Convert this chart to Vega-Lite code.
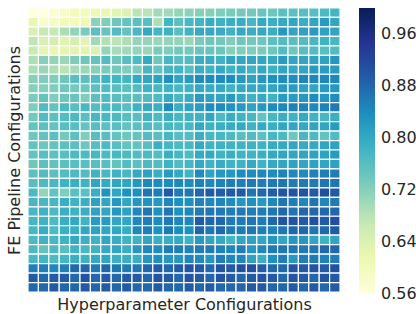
{
"$schema":"https://vega.github.io/schema/vega-lite/v6.json",
"width":312,"height":284,
"autosize":{"type":"none"},
"padding":{"left":28,"top":8,"right":76,"bottom":22},
"background":"white",
"config":{"font":"DejaVu Sans","view":{"stroke":null}},
"data":{"values":[
{"h":0,"p":0,"v":0.56},{"h":1,"p":0,"v":0.56},{"h":2,"p":0,"v":0.57},{"h":3,"p":0,"v":0.58},{"h":4,"p":0,"v":0.60},{"h":5,"p":0,"v":0.60},{"h":6,"p":0,"v":0.61},{"h":7,"p":0,"v":0.62},{"h":8,"p":0,"v":0.63},{"h":9,"p":0,"v":0.64},{"h":10,"p":0,"v":0.68},{"h":11,"p":0,"v":0.68},{"h":12,"p":0,"v":0.70},{"h":13,"p":0,"v":0.70},{"h":14,"p":0,"v":0.71},{"h":15,"p":0,"v":0.715},{"h":16,"p":0,"v":0.72},{"h":17,"p":0,"v":0.72},{"h":18,"p":0,"v":0.725},{"h":19,"p":0,"v":0.73},{"h":20,"p":0,"v":0.735},{"h":21,"p":0,"v":0.735},{"h":22,"p":0,"v":0.745},{"h":23,"p":0,"v":0.74},{"h":24,"p":0,"v":0.755},{"h":25,"p":0,"v":0.755},{"h":26,"p":0,"v":0.76},{"h":27,"p":0,"v":0.76},{"h":28,"p":0,"v":0.77},{"h":29,"p":0,"v":0.78},
{"h":0,"p":1,"v":0.62},{"h":1,"p":1,"v":0.58},{"h":2,"p":1,"v":0.59},{"h":3,"p":1,"v":0.60},{"h":4,"p":1,"v":0.60},{"h":5,"p":1,"v":0.61},{"h":6,"p":1,"v":0.715},{"h":7,"p":1,"v":0.725},{"h":8,"p":1,"v":0.74},{"h":9,"p":1,"v":0.75},{"h":10,"p":1,"v":0.755},{"h":11,"p":1,"v":0.76},{"h":12,"p":1,"v":0.69},{"h":13,"p":1,"v":0.78},{"h":14,"p":1,"v":0.755},{"h":15,"p":1,"v":0.775},{"h":16,"p":1,"v":0.78},{"h":17,"p":1,"v":0.795},{"h":18,"p":1,"v":0.785},{"h":19,"p":1,"v":0.79},{"h":20,"p":1,"v":0.795},{"h":21,"p":1,"v":0.775},{"h":22,"p":1,"v":0.80},{"h":23,"p":1,"v":0.79},{"h":24,"p":1,"v":0.80},{"h":25,"p":1,"v":0.805},{"h":26,"p":1,"v":0.79},{"h":27,"p":1,"v":0.805},{"h":28,"p":1,"v":0.82},{"h":29,"p":1,"v":0.805},
{"h":0,"p":2,"v":0.645},{"h":1,"p":2,"v":0.665},{"h":2,"p":2,"v":0.67},{"h":3,"p":2,"v":0.69},{"h":4,"p":2,"v":0.71},{"h":5,"p":2,"v":0.73},{"h":6,"p":2,"v":0.755},{"h":7,"p":2,"v":0.745},{"h":8,"p":2,"v":0.765},{"h":9,"p":2,"v":0.75},{"h":10,"p":2,"v":0.775},{"h":11,"p":2,"v":0.80},{"h":12,"p":2,"v":0.78},{"h":13,"p":2,"v":0.785},{"h":14,"p":2,"v":0.76},{"h":15,"p":2,"v":0.785},{"h":16,"p":2,"v":0.80},{"h":17,"p":2,"v":0.80},{"h":18,"p":2,"v":0.795},{"h":19,"p":2,"v":0.785},{"h":20,"p":2,"v":0.80},{"h":21,"p":2,"v":0.79},{"h":22,"p":2,"v":0.80},{"h":23,"p":2,"v":0.79},{"h":24,"p":2,"v":0.825},{"h":25,"p":2,"v":0.805},{"h":26,"p":2,"v":0.81},{"h":27,"p":2,"v":0.82},{"h":28,"p":2,"v":0.81},{"h":29,"p":2,"v":0.805},
{"h":0,"p":3,"v":0.675},{"h":1,"p":3,"v":0.645},{"h":2,"p":3,"v":0.65},{"h":3,"p":3,"v":0.635},{"h":4,"p":3,"v":0.65},{"h":5,"p":3,"v":0.63},{"h":6,"p":3,"v":0.70},{"h":7,"p":3,"v":0.685},{"h":8,"p":3,"v":0.68},{"h":9,"p":3,"v":0.69},{"h":10,"p":3,"v":0.71},{"h":11,"p":3,"v":0.71},{"h":12,"p":3,"v":0.705},{"h":13,"p":3,"v":0.71},{"h":14,"p":3,"v":0.71},{"h":15,"p":3,"v":0.705},{"h":16,"p":3,"v":0.73},{"h":17,"p":3,"v":0.74},{"h":18,"p":3,"v":0.735},{"h":19,"p":3,"v":0.725},{"h":20,"p":3,"v":0.74},{"h":21,"p":3,"v":0.735},{"h":22,"p":3,"v":0.74},{"h":23,"p":3,"v":0.755},{"h":24,"p":3,"v":0.765},{"h":25,"p":3,"v":0.76},{"h":26,"p":3,"v":0.765},{"h":27,"p":3,"v":0.775},{"h":28,"p":3,"v":0.785},{"h":29,"p":3,"v":0.775},
{"h":0,"p":4,"v":0.665},{"h":1,"p":4,"v":0.625},{"h":2,"p":4,"v":0.62},{"h":3,"p":4,"v":0.625},{"h":4,"p":4,"v":0.63},{"h":5,"p":4,"v":0.63},{"h":6,"p":4,"v":0.64},{"h":7,"p":4,"v":0.71},{"h":8,"p":4,"v":0.695},{"h":9,"p":4,"v":0.70},{"h":10,"p":4,"v":0.71},{"h":11,"p":4,"v":0.705},{"h":12,"p":4,"v":0.73},{"h":13,"p":4,"v":0.725},{"h":14,"p":4,"v":0.735},{"h":15,"p":4,"v":0.735},{"h":16,"p":4,"v":0.745},{"h":17,"p":4,"v":0.745},{"h":18,"p":4,"v":0.74},{"h":19,"p":4,"v":0.72},{"h":20,"p":4,"v":0.725},{"h":21,"p":4,"v":0.725},{"h":22,"p":4,"v":0.73},{"h":23,"p":4,"v":0.74},{"h":24,"p":4,"v":0.765},{"h":25,"p":4,"v":0.74},{"h":26,"p":4,"v":0.76},{"h":27,"p":4,"v":0.765},{"h":28,"p":4,"v":0.76},{"h":29,"p":4,"v":0.765},
{"h":0,"p":5,"v":0.69},{"h":1,"p":5,"v":0.72},{"h":2,"p":5,"v":0.71},{"h":3,"p":5,"v":0.705},{"h":4,"p":5,"v":0.725},{"h":5,"p":5,"v":0.74},{"h":6,"p":5,"v":0.75},{"h":7,"p":5,"v":0.765},{"h":8,"p":5,"v":0.74},{"h":9,"p":5,"v":0.76},{"h":10,"p":5,"v":0.77},{"h":11,"p":5,"v":0.80},{"h":12,"p":5,"v":0.74},{"h":13,"p":5,"v":0.775},{"h":14,"p":5,"v":0.76},{"h":15,"p":5,"v":0.765},{"h":16,"p":5,"v":0.79},{"h":17,"p":5,"v":0.795},{"h":18,"p":5,"v":0.785},{"h":19,"p":5,"v":0.805},{"h":20,"p":5,"v":0.805},{"h":21,"p":5,"v":0.805},{"h":22,"p":5,"v":0.805},{"h":23,"p":5,"v":0.80},{"h":24,"p":5,"v":0.82},{"h":25,"p":5,"v":0.805},{"h":26,"p":5,"v":0.805},{"h":27,"p":5,"v":0.81},{"h":28,"p":5,"v":0.81},{"h":29,"p":5,"v":0.825},
{"h":0,"p":6,"v":0.69},{"h":1,"p":6,"v":0.705},{"h":2,"p":6,"v":0.69},{"h":3,"p":6,"v":0.68},{"h":4,"p":6,"v":0.695},{"h":5,"p":6,"v":0.705},{"h":6,"p":6,"v":0.72},{"h":7,"p":6,"v":0.73},{"h":8,"p":6,"v":0.735},{"h":9,"p":6,"v":0.725},{"h":10,"p":6,"v":0.73},{"h":11,"p":6,"v":0.775},{"h":12,"p":6,"v":0.75},{"h":13,"p":6,"v":0.775},{"h":14,"p":6,"v":0.78},{"h":15,"p":6,"v":0.76},{"h":16,"p":6,"v":0.79},{"h":17,"p":6,"v":0.785},{"h":18,"p":6,"v":0.80},{"h":19,"p":6,"v":0.785},{"h":20,"p":6,"v":0.80},{"h":21,"p":6,"v":0.785},{"h":22,"p":6,"v":0.80},{"h":23,"p":6,"v":0.785},{"h":24,"p":6,"v":0.805},{"h":25,"p":6,"v":0.80},{"h":26,"p":6,"v":0.805},{"h":27,"p":6,"v":0.82},{"h":28,"p":6,"v":0.82},{"h":29,"p":6,"v":0.82},
{"h":0,"p":7,"v":0.72},{"h":1,"p":7,"v":0.725},{"h":2,"p":7,"v":0.725},{"h":3,"p":7,"v":0.74},{"h":4,"p":7,"v":0.76},{"h":5,"p":7,"v":0.755},{"h":6,"p":7,"v":0.765},{"h":7,"p":7,"v":0.785},{"h":8,"p":7,"v":0.78},{"h":9,"p":7,"v":0.78},{"h":10,"p":7,"v":0.80},{"h":11,"p":7,"v":0.805},{"h":12,"p":7,"v":0.81},{"h":13,"p":7,"v":0.835},{"h":14,"p":7,"v":0.805},{"h":15,"p":7,"v":0.82},{"h":16,"p":7,"v":0.84},{"h":17,"p":7,"v":0.84},{"h":18,"p":7,"v":0.84},{"h":19,"p":7,"v":0.84},{"h":20,"p":7,"v":0.825},{"h":21,"p":7,"v":0.81},{"h":22,"p":7,"v":0.825},{"h":23,"p":7,"v":0.835},{"h":24,"p":7,"v":0.84},{"h":25,"p":7,"v":0.84},{"h":26,"p":7,"v":0.845},{"h":27,"p":7,"v":0.845},{"h":28,"p":7,"v":0.845},{"h":29,"p":7,"v":0.845},
{"h":0,"p":8,"v":0.72},{"h":1,"p":8,"v":0.72},{"h":2,"p":8,"v":0.725},{"h":3,"p":8,"v":0.74},{"h":4,"p":8,"v":0.735},{"h":5,"p":8,"v":0.74},{"h":6,"p":8,"v":0.755},{"h":7,"p":8,"v":0.765},{"h":8,"p":8,"v":0.76},{"h":9,"p":8,"v":0.755},{"h":10,"p":8,"v":0.765},{"h":11,"p":8,"v":0.785},{"h":12,"p":8,"v":0.775},{"h":13,"p":8,"v":0.785},{"h":14,"p":8,"v":0.775},{"h":15,"p":8,"v":0.785},{"h":16,"p":8,"v":0.80},{"h":17,"p":8,"v":0.795},{"h":18,"p":8,"v":0.80},{"h":19,"p":8,"v":0.785},{"h":20,"p":8,"v":0.80},{"h":21,"p":8,"v":0.80},{"h":22,"p":8,"v":0.805},{"h":23,"p":8,"v":0.805},{"h":24,"p":8,"v":0.82},{"h":25,"p":8,"v":0.82},{"h":26,"p":8,"v":0.81},{"h":27,"p":8,"v":0.805},{"h":28,"p":8,"v":0.82},{"h":29,"p":8,"v":0.825},
{"h":0,"p":9,"v":0.73},{"h":1,"p":9,"v":0.75},{"h":2,"p":9,"v":0.725},{"h":3,"p":9,"v":0.74},{"h":4,"p":9,"v":0.745},{"h":5,"p":9,"v":0.725},{"h":6,"p":9,"v":0.755},{"h":7,"p":9,"v":0.765},{"h":8,"p":9,"v":0.76},{"h":9,"p":9,"v":0.755},{"h":10,"p":9,"v":0.76},{"h":11,"p":9,"v":0.765},{"h":12,"p":9,"v":0.77},{"h":13,"p":9,"v":0.795},{"h":14,"p":9,"v":0.775},{"h":15,"p":9,"v":0.795},{"h":16,"p":9,"v":0.82},{"h":17,"p":9,"v":0.81},{"h":18,"p":9,"v":0.805},{"h":19,"p":9,"v":0.82},{"h":20,"p":9,"v":0.80},{"h":21,"p":9,"v":0.785},{"h":22,"p":9,"v":0.80},{"h":23,"p":9,"v":0.785},{"h":24,"p":9,"v":0.82},{"h":25,"p":9,"v":0.82},{"h":26,"p":9,"v":0.825},{"h":27,"p":9,"v":0.84},{"h":28,"p":9,"v":0.825},{"h":29,"p":9,"v":0.84},
{"h":0,"p":10,"v":0.725},{"h":1,"p":10,"v":0.765},{"h":2,"p":10,"v":0.75},{"h":3,"p":10,"v":0.77},{"h":4,"p":10,"v":0.76},{"h":5,"p":10,"v":0.775},{"h":6,"p":10,"v":0.765},{"h":7,"p":10,"v":0.775},{"h":8,"p":10,"v":0.77},{"h":9,"p":10,"v":0.76},{"h":10,"p":10,"v":0.785},{"h":11,"p":10,"v":0.80},{"h":12,"p":10,"v":0.79},{"h":13,"p":10,"v":0.84},{"h":14,"p":10,"v":0.795},{"h":15,"p":10,"v":0.81},{"h":16,"p":10,"v":0.82},{"h":17,"p":10,"v":0.84},{"h":18,"p":10,"v":0.84},{"h":19,"p":10,"v":0.83},{"h":20,"p":10,"v":0.825},{"h":21,"p":10,"v":0.81},{"h":22,"p":10,"v":0.825},{"h":23,"p":10,"v":0.84},{"h":24,"p":10,"v":0.845},{"h":25,"p":10,"v":0.85},{"h":26,"p":10,"v":0.85},{"h":27,"p":10,"v":0.845},{"h":28,"p":10,"v":0.85},{"h":29,"p":10,"v":0.86},
{"h":0,"p":11,"v":0.735},{"h":1,"p":11,"v":0.765},{"h":2,"p":11,"v":0.755},{"h":3,"p":11,"v":0.765},{"h":4,"p":11,"v":0.77},{"h":5,"p":11,"v":0.76},{"h":6,"p":11,"v":0.775},{"h":7,"p":11,"v":0.775},{"h":8,"p":11,"v":0.77},{"h":9,"p":11,"v":0.76},{"h":10,"p":11,"v":0.76},{"h":11,"p":11,"v":0.785},{"h":12,"p":11,"v":0.77},{"h":13,"p":11,"v":0.79},{"h":14,"p":11,"v":0.775},{"h":15,"p":11,"v":0.785},{"h":16,"p":11,"v":0.785},{"h":17,"p":11,"v":0.805},{"h":18,"p":11,"v":0.77},{"h":19,"p":11,"v":0.795},{"h":20,"p":11,"v":0.785},{"h":21,"p":11,"v":0.775},{"h":22,"p":11,"v":0.75},{"h":23,"p":11,"v":0.775},{"h":24,"p":11,"v":0.79},{"h":25,"p":11,"v":0.785},{"h":26,"p":11,"v":0.80},{"h":27,"p":11,"v":0.785},{"h":28,"p":11,"v":0.775},{"h":29,"p":11,"v":0.79},
{"h":0,"p":12,"v":0.75},{"h":1,"p":12,"v":0.755},{"h":2,"p":12,"v":0.75},{"h":3,"p":12,"v":0.76},{"h":4,"p":12,"v":0.76},{"h":5,"p":12,"v":0.75},{"h":6,"p":12,"v":0.76},{"h":7,"p":12,"v":0.755},{"h":8,"p":12,"v":0.76},{"h":9,"p":12,"v":0.75},{"h":10,"p":12,"v":0.755},{"h":11,"p":12,"v":0.77},{"h":12,"p":12,"v":0.76},{"h":13,"p":12,"v":0.775},{"h":14,"p":12,"v":0.77},{"h":15,"p":12,"v":0.775},{"h":16,"p":12,"v":0.80},{"h":17,"p":12,"v":0.785},{"h":18,"p":12,"v":0.79},{"h":19,"p":12,"v":0.795},{"h":20,"p":12,"v":0.80},{"h":21,"p":12,"v":0.785},{"h":22,"p":12,"v":0.80},{"h":23,"p":12,"v":0.79},{"h":24,"p":12,"v":0.805},{"h":25,"p":12,"v":0.805},{"h":26,"p":12,"v":0.80},{"h":27,"p":12,"v":0.805},{"h":28,"p":12,"v":0.805},{"h":29,"p":12,"v":0.82},
{"h":0,"p":13,"v":0.74},{"h":1,"p":13,"v":0.75},{"h":2,"p":13,"v":0.755},{"h":3,"p":13,"v":0.735},{"h":4,"p":13,"v":0.755},{"h":5,"p":13,"v":0.725},{"h":6,"p":13,"v":0.76},{"h":7,"p":13,"v":0.76},{"h":8,"p":13,"v":0.75},{"h":9,"p":13,"v":0.74},{"h":10,"p":13,"v":0.75},{"h":11,"p":13,"v":0.765},{"h":12,"p":13,"v":0.76},{"h":13,"p":13,"v":0.775},{"h":14,"p":13,"v":0.76},{"h":15,"p":13,"v":0.765},{"h":16,"p":13,"v":0.79},{"h":17,"p":13,"v":0.775},{"h":18,"p":13,"v":0.775},{"h":19,"p":13,"v":0.77},{"h":20,"p":13,"v":0.76},{"h":21,"p":13,"v":0.765},{"h":22,"p":13,"v":0.755},{"h":23,"p":13,"v":0.775},{"h":24,"p":13,"v":0.77},{"h":25,"p":13,"v":0.74},{"h":26,"p":13,"v":0.775},{"h":27,"p":13,"v":0.77},{"h":28,"p":13,"v":0.75},{"h":29,"p":13,"v":0.765},
{"h":0,"p":14,"v":0.75},{"h":1,"p":14,"v":0.74},{"h":2,"p":14,"v":0.75},{"h":3,"p":14,"v":0.755},{"h":4,"p":14,"v":0.755},{"h":5,"p":14,"v":0.74},{"h":6,"p":14,"v":0.76},{"h":7,"p":14,"v":0.77},{"h":8,"p":14,"v":0.76},{"h":9,"p":14,"v":0.75},{"h":10,"p":14,"v":0.75},{"h":11,"p":14,"v":0.76},{"h":12,"p":14,"v":0.79},{"h":13,"p":14,"v":0.775},{"h":14,"p":14,"v":0.77},{"h":15,"p":14,"v":0.775},{"h":16,"p":14,"v":0.80},{"h":17,"p":14,"v":0.785},{"h":18,"p":14,"v":0.785},{"h":19,"p":14,"v":0.785},{"h":20,"p":14,"v":0.785},{"h":21,"p":14,"v":0.785},{"h":22,"p":14,"v":0.785},{"h":23,"p":14,"v":0.795},{"h":24,"p":14,"v":0.80},{"h":25,"p":14,"v":0.805},{"h":26,"p":14,"v":0.80},{"h":27,"p":14,"v":0.80},{"h":28,"p":14,"v":0.805},{"h":29,"p":14,"v":0.81},
{"h":0,"p":15,"v":0.75},{"h":1,"p":15,"v":0.76},{"h":2,"p":15,"v":0.755},{"h":3,"p":15,"v":0.76},{"h":4,"p":15,"v":0.77},{"h":5,"p":15,"v":0.77},{"h":6,"p":15,"v":0.775},{"h":7,"p":15,"v":0.77},{"h":8,"p":15,"v":0.775},{"h":9,"p":15,"v":0.77},{"h":10,"p":15,"v":0.765},{"h":11,"p":15,"v":0.77},{"h":12,"p":15,"v":0.765},{"h":13,"p":15,"v":0.79},{"h":14,"p":15,"v":0.775},{"h":15,"p":15,"v":0.77},{"h":16,"p":15,"v":0.80},{"h":17,"p":15,"v":0.80},{"h":18,"p":15,"v":0.785},{"h":19,"p":15,"v":0.79},{"h":20,"p":15,"v":0.785},{"h":21,"p":15,"v":0.785},{"h":22,"p":15,"v":0.79},{"h":23,"p":15,"v":0.80},{"h":24,"p":15,"v":0.805},{"h":25,"p":15,"v":0.805},{"h":26,"p":15,"v":0.805},{"h":27,"p":15,"v":0.81},{"h":28,"p":15,"v":0.81},{"h":29,"p":15,"v":0.82},
{"h":0,"p":16,"v":0.74},{"h":1,"p":16,"v":0.755},{"h":2,"p":16,"v":0.75},{"h":3,"p":16,"v":0.755},{"h":4,"p":16,"v":0.76},{"h":5,"p":16,"v":0.76},{"h":6,"p":16,"v":0.76},{"h":7,"p":16,"v":0.76},{"h":8,"p":16,"v":0.75},{"h":9,"p":16,"v":0.765},{"h":10,"p":16,"v":0.755},{"h":11,"p":16,"v":0.77},{"h":12,"p":16,"v":0.765},{"h":13,"p":16,"v":0.785},{"h":14,"p":16,"v":0.765},{"h":15,"p":16,"v":0.775},{"h":16,"p":16,"v":0.80},{"h":17,"p":16,"v":0.785},{"h":18,"p":16,"v":0.795},{"h":19,"p":16,"v":0.785},{"h":20,"p":16,"v":0.785},{"h":21,"p":16,"v":0.80},{"h":22,"p":16,"v":0.785},{"h":23,"p":16,"v":0.80},{"h":24,"p":16,"v":0.805},{"h":25,"p":16,"v":0.81},{"h":26,"p":16,"v":0.805},{"h":27,"p":16,"v":0.81},{"h":28,"p":16,"v":0.805},{"h":29,"p":16,"v":0.81},
{"h":0,"p":17,"v":0.755},{"h":1,"p":17,"v":0.765},{"h":2,"p":17,"v":0.755},{"h":3,"p":17,"v":0.765},{"h":4,"p":17,"v":0.77},{"h":5,"p":17,"v":0.765},{"h":6,"p":17,"v":0.785},{"h":7,"p":17,"v":0.775},{"h":8,"p":17,"v":0.785},{"h":9,"p":17,"v":0.775},{"h":10,"p":17,"v":0.80},{"h":11,"p":17,"v":0.81},{"h":12,"p":17,"v":0.79},{"h":13,"p":17,"v":0.82},{"h":14,"p":17,"v":0.80},{"h":15,"p":17,"v":0.785},{"h":16,"p":17,"v":0.84},{"h":17,"p":17,"v":0.81},{"h":18,"p":17,"v":0.825},{"h":19,"p":17,"v":0.825},{"h":20,"p":17,"v":0.84},{"h":21,"p":17,"v":0.84},{"h":22,"p":17,"v":0.845},{"h":23,"p":17,"v":0.84},{"h":24,"p":17,"v":0.85},{"h":25,"p":17,"v":0.845},{"h":26,"p":17,"v":0.84},{"h":27,"p":17,"v":0.85},{"h":28,"p":17,"v":0.855},{"h":29,"p":17,"v":0.855},
{"h":0,"p":18,"v":0.76},{"h":1,"p":18,"v":0.77},{"h":2,"p":18,"v":0.775},{"h":3,"p":18,"v":0.785},{"h":4,"p":18,"v":0.79},{"h":5,"p":18,"v":0.785},{"h":6,"p":18,"v":0.805},{"h":7,"p":18,"v":0.80},{"h":8,"p":18,"v":0.805},{"h":9,"p":18,"v":0.805},{"h":10,"p":18,"v":0.825},{"h":11,"p":18,"v":0.845},{"h":12,"p":18,"v":0.84},{"h":13,"p":18,"v":0.84},{"h":14,"p":18,"v":0.845},{"h":15,"p":18,"v":0.84},{"h":16,"p":18,"v":0.85},{"h":17,"p":18,"v":0.845},{"h":18,"p":18,"v":0.85},{"h":19,"p":18,"v":0.855},{"h":20,"p":18,"v":0.855},{"h":21,"p":18,"v":0.86},{"h":22,"p":18,"v":0.855},{"h":23,"p":18,"v":0.86},{"h":24,"p":18,"v":0.865},{"h":25,"p":18,"v":0.86},{"h":26,"p":18,"v":0.86},{"h":27,"p":18,"v":0.86},{"h":28,"p":18,"v":0.865},{"h":29,"p":18,"v":0.865},
{"h":0,"p":19,"v":0.77},{"h":1,"p":19,"v":0.71},{"h":2,"p":19,"v":0.75},{"h":3,"p":19,"v":0.725},{"h":4,"p":19,"v":0.755},{"h":5,"p":19,"v":0.755},{"h":6,"p":19,"v":0.79},{"h":7,"p":19,"v":0.83},{"h":8,"p":19,"v":0.805},{"h":9,"p":19,"v":0.835},{"h":10,"p":19,"v":0.835},{"h":11,"p":19,"v":0.865},{"h":12,"p":19,"v":0.855},{"h":13,"p":19,"v":0.895},{"h":14,"p":19,"v":0.86},{"h":15,"p":19,"v":0.865},{"h":16,"p":19,"v":0.88},{"h":17,"p":19,"v":0.895},{"h":18,"p":19,"v":0.89},{"h":19,"p":19,"v":0.895},{"h":20,"p":19,"v":0.895},{"h":21,"p":19,"v":0.865},{"h":22,"p":19,"v":0.88},{"h":23,"p":19,"v":0.89},{"h":24,"p":19,"v":0.905},{"h":25,"p":19,"v":0.905},{"h":26,"p":19,"v":0.905},{"h":27,"p":19,"v":0.895},{"h":28,"p":19,"v":0.91},{"h":29,"p":19,"v":0.895},
{"h":0,"p":20,"v":0.775},{"h":1,"p":20,"v":0.775},{"h":2,"p":20,"v":0.775},{"h":3,"p":20,"v":0.79},{"h":4,"p":20,"v":0.785},{"h":5,"p":20,"v":0.79},{"h":6,"p":20,"v":0.81},{"h":7,"p":20,"v":0.805},{"h":8,"p":20,"v":0.825},{"h":9,"p":20,"v":0.805},{"h":10,"p":20,"v":0.825},{"h":11,"p":20,"v":0.83},{"h":12,"p":20,"v":0.825},{"h":13,"p":20,"v":0.845},{"h":14,"p":20,"v":0.835},{"h":15,"p":20,"v":0.835},{"h":16,"p":20,"v":0.85},{"h":17,"p":20,"v":0.845},{"h":18,"p":20,"v":0.845},{"h":19,"p":20,"v":0.84},{"h":20,"p":20,"v":0.825},{"h":21,"p":20,"v":0.835},{"h":22,"p":20,"v":0.825},{"h":23,"p":20,"v":0.845},{"h":24,"p":20,"v":0.865},{"h":25,"p":20,"v":0.855},{"h":26,"p":20,"v":0.845},{"h":27,"p":20,"v":0.865},{"h":28,"p":20,"v":0.845},{"h":29,"p":20,"v":0.86},
{"h":0,"p":21,"v":0.775},{"h":1,"p":21,"v":0.785},{"h":2,"p":21,"v":0.77},{"h":3,"p":21,"v":0.79},{"h":4,"p":21,"v":0.785},{"h":5,"p":21,"v":0.79},{"h":6,"p":21,"v":0.81},{"h":7,"p":21,"v":0.805},{"h":8,"p":21,"v":0.825},{"h":9,"p":21,"v":0.81},{"h":10,"p":21,"v":0.845},{"h":11,"p":21,"v":0.865},{"h":12,"p":21,"v":0.835},{"h":13,"p":21,"v":0.865},{"h":14,"p":21,"v":0.835},{"h":15,"p":21,"v":0.845},{"h":16,"p":21,"v":0.86},{"h":17,"p":21,"v":0.865},{"h":18,"p":21,"v":0.86},{"h":19,"p":21,"v":0.855},{"h":20,"p":21,"v":0.86},{"h":21,"p":21,"v":0.855},{"h":22,"p":21,"v":0.855},{"h":23,"p":21,"v":0.865},{"h":24,"p":21,"v":0.88},{"h":25,"p":21,"v":0.865},{"h":26,"p":21,"v":0.88},{"h":27,"p":21,"v":0.88},{"h":28,"p":21,"v":0.88},{"h":29,"p":21,"v":0.88},
{"h":0,"p":22,"v":0.775},{"h":1,"p":22,"v":0.785},{"h":2,"p":22,"v":0.77},{"h":3,"p":22,"v":0.79},{"h":4,"p":22,"v":0.80},{"h":5,"p":22,"v":0.785},{"h":6,"p":22,"v":0.82},{"h":7,"p":22,"v":0.82},{"h":8,"p":22,"v":0.805},{"h":9,"p":22,"v":0.805},{"h":10,"p":22,"v":0.845},{"h":11,"p":22,"v":0.855},{"h":12,"p":22,"v":0.84},{"h":13,"p":22,"v":0.86},{"h":14,"p":22,"v":0.845},{"h":15,"p":22,"v":0.845},{"h":16,"p":22,"v":0.895},{"h":17,"p":22,"v":0.88},{"h":18,"p":22,"v":0.88},{"h":19,"p":22,"v":0.86},{"h":20,"p":22,"v":0.86},{"h":21,"p":22,"v":0.865},{"h":22,"p":22,"v":0.86},{"h":23,"p":22,"v":0.88},{"h":24,"p":22,"v":0.905},{"h":25,"p":22,"v":0.905},{"h":26,"p":22,"v":0.895},{"h":27,"p":22,"v":0.91},{"h":28,"p":22,"v":0.895},{"h":29,"p":22,"v":0.91},
{"h":0,"p":23,"v":0.775},{"h":1,"p":23,"v":0.795},{"h":2,"p":23,"v":0.77},{"h":3,"p":23,"v":0.79},{"h":4,"p":23,"v":0.79},{"h":5,"p":23,"v":0.805},{"h":6,"p":23,"v":0.81},{"h":7,"p":23,"v":0.805},{"h":8,"p":23,"v":0.805},{"h":9,"p":23,"v":0.795},{"h":10,"p":23,"v":0.845},{"h":11,"p":23,"v":0.855},{"h":12,"p":23,"v":0.835},{"h":13,"p":23,"v":0.86},{"h":14,"p":23,"v":0.84},{"h":15,"p":23,"v":0.835},{"h":16,"p":23,"v":0.88},{"h":17,"p":23,"v":0.865},{"h":18,"p":23,"v":0.88},{"h":19,"p":23,"v":0.86},{"h":20,"p":23,"v":0.86},{"h":21,"p":23,"v":0.865},{"h":22,"p":23,"v":0.855},{"h":23,"p":23,"v":0.85},{"h":24,"p":23,"v":0.865},{"h":25,"p":23,"v":0.88},{"h":26,"p":23,"v":0.88},{"h":27,"p":23,"v":0.865},{"h":28,"p":23,"v":0.88},{"h":29,"p":23,"v":0.895},
{"h":0,"p":24,"v":0.77},{"h":1,"p":24,"v":0.785},{"h":2,"p":24,"v":0.775},{"h":3,"p":24,"v":0.785},{"h":4,"p":24,"v":0.80},{"h":5,"p":24,"v":0.79},{"h":6,"p":24,"v":0.785},{"h":7,"p":24,"v":0.805},{"h":8,"p":24,"v":0.795},{"h":9,"p":24,"v":0.785},{"h":10,"p":24,"v":0.785},{"h":11,"p":24,"v":0.805},{"h":12,"p":24,"v":0.79},{"h":13,"p":24,"v":0.79},{"h":14,"p":24,"v":0.80},{"h":15,"p":24,"v":0.785},{"h":16,"p":24,"v":0.82},{"h":17,"p":24,"v":0.805},{"h":18,"p":24,"v":0.80},{"h":19,"p":24,"v":0.78},{"h":20,"p":24,"v":0.805},{"h":21,"p":24,"v":0.81},{"h":22,"p":24,"v":0.805},{"h":23,"p":24,"v":0.825},{"h":24,"p":24,"v":0.805},{"h":25,"p":24,"v":0.825},{"h":26,"p":24,"v":0.825},{"h":27,"p":24,"v":0.805},{"h":28,"p":24,"v":0.785},{"h":29,"p":24,"v":0.805},
{"h":0,"p":25,"v":0.77},{"h":1,"p":25,"v":0.75},{"h":2,"p":25,"v":0.77},{"h":3,"p":25,"v":0.76},{"h":4,"p":25,"v":0.785},{"h":5,"p":25,"v":0.775},{"h":6,"p":25,"v":0.785},{"h":7,"p":25,"v":0.80},{"h":8,"p":25,"v":0.805},{"h":9,"p":25,"v":0.79},{"h":10,"p":25,"v":0.825},{"h":11,"p":25,"v":0.845},{"h":12,"p":25,"v":0.84},{"h":13,"p":25,"v":0.855},{"h":14,"p":25,"v":0.855},{"h":15,"p":25,"v":0.85},{"h":16,"p":25,"v":0.855},{"h":17,"p":25,"v":0.86},{"h":18,"p":25,"v":0.85},{"h":19,"p":25,"v":0.845},{"h":20,"p":25,"v":0.855},{"h":21,"p":25,"v":0.825},{"h":22,"p":25,"v":0.845},{"h":23,"p":25,"v":0.86},{"h":24,"p":25,"v":0.865},{"h":25,"p":25,"v":0.865},{"h":26,"p":25,"v":0.86},{"h":27,"p":25,"v":0.865},{"h":28,"p":25,"v":0.88},{"h":29,"p":25,"v":0.88},
{"h":0,"p":26,"v":0.775},{"h":1,"p":26,"v":0.78},{"h":2,"p":26,"v":0.77},{"h":3,"p":26,"v":0.78},{"h":4,"p":26,"v":0.79},{"h":5,"p":26,"v":0.785},{"h":6,"p":26,"v":0.80},{"h":7,"p":26,"v":0.805},{"h":8,"p":26,"v":0.79},{"h":9,"p":26,"v":0.79},{"h":10,"p":26,"v":0.79},{"h":11,"p":26,"v":0.825},{"h":12,"p":26,"v":0.835},{"h":13,"p":26,"v":0.825},{"h":14,"p":26,"v":0.825},{"h":15,"p":26,"v":0.845},{"h":16,"p":26,"v":0.84},{"h":17,"p":26,"v":0.825},{"h":18,"p":26,"v":0.855},{"h":19,"p":26,"v":0.845},{"h":20,"p":26,"v":0.845},{"h":21,"p":26,"v":0.81},{"h":22,"p":26,"v":0.79},{"h":23,"p":26,"v":0.835},{"h":24,"p":26,"v":0.855},{"h":25,"p":26,"v":0.825},{"h":26,"p":26,"v":0.855},{"h":27,"p":26,"v":0.86},{"h":28,"p":26,"v":0.85},{"h":29,"p":26,"v":0.855},
{"h":0,"p":27,"v":0.855},{"h":1,"p":27,"v":0.855},{"h":2,"p":27,"v":0.845},{"h":3,"p":27,"v":0.855},{"h":4,"p":27,"v":0.88},{"h":5,"p":27,"v":0.88},{"h":6,"p":27,"v":0.86},{"h":7,"p":27,"v":0.88},{"h":8,"p":27,"v":0.865},{"h":9,"p":27,"v":0.86},{"h":10,"p":27,"v":0.865},{"h":11,"p":27,"v":0.88},{"h":12,"p":27,"v":0.895},{"h":13,"p":27,"v":0.88},{"h":14,"p":27,"v":0.895},{"h":15,"p":27,"v":0.905},{"h":16,"p":27,"v":0.895},{"h":17,"p":27,"v":0.88},{"h":18,"p":27,"v":0.905},{"h":19,"p":27,"v":0.895},{"h":20,"p":27,"v":0.91},{"h":21,"p":27,"v":0.91},{"h":22,"p":27,"v":0.895},{"h":23,"p":27,"v":0.88},{"h":24,"p":27,"v":0.88},{"h":25,"p":27,"v":0.905},{"h":26,"p":27,"v":0.895},{"h":27,"p":27,"v":0.905},{"h":28,"p":27,"v":0.895},{"h":29,"p":27,"v":0.91},
{"h":0,"p":28,"v":0.895},{"h":1,"p":28,"v":0.88},{"h":2,"p":28,"v":0.895},{"h":3,"p":28,"v":0.895},{"h":4,"p":28,"v":0.88},{"h":5,"p":28,"v":0.905},{"h":6,"p":28,"v":0.88},{"h":7,"p":28,"v":0.895},{"h":8,"p":28,"v":0.88},{"h":9,"p":28,"v":0.895},{"h":10,"p":28,"v":0.895},{"h":11,"p":28,"v":0.88},{"h":12,"p":28,"v":0.905},{"h":13,"p":28,"v":0.895},{"h":14,"p":28,"v":0.88},{"h":15,"p":28,"v":0.905},{"h":16,"p":28,"v":0.895},{"h":17,"p":28,"v":0.88},{"h":18,"p":28,"v":0.905},{"h":19,"p":28,"v":0.895},{"h":20,"p":28,"v":0.88},{"h":21,"p":28,"v":0.895},{"h":22,"p":28,"v":0.905},{"h":23,"p":28,"v":0.895},{"h":24,"p":28,"v":0.88},{"h":25,"p":28,"v":0.905},{"h":26,"p":28,"v":0.895},{"h":27,"p":28,"v":0.88},{"h":28,"p":28,"v":0.905},{"h":29,"p":28,"v":0.895},
{"h":0,"p":29,"v":0.88},{"h":1,"p":29,"v":0.88},{"h":2,"p":29,"v":0.895},{"h":3,"p":29,"v":0.88},{"h":4,"p":29,"v":0.88},{"h":5,"p":29,"v":0.895},{"h":6,"p":29,"v":0.88},{"h":7,"p":29,"v":0.895},{"h":8,"p":29,"v":0.88},{"h":9,"p":29,"v":0.895},{"h":10,"p":29,"v":0.88},{"h":11,"p":29,"v":0.88},{"h":12,"p":29,"v":0.895},{"h":13,"p":29,"v":0.88},{"h":14,"p":29,"v":0.88},{"h":15,"p":29,"v":0.895},{"h":16,"p":29,"v":0.88},{"h":17,"p":29,"v":0.895},{"h":18,"p":29,"v":0.88},{"h":19,"p":29,"v":0.88},{"h":20,"p":29,"v":0.88},{"h":21,"p":29,"v":0.895},{"h":22,"p":29,"v":0.895},{"h":23,"p":29,"v":0.88},{"h":24,"p":29,"v":0.88},{"h":25,"p":29,"v":0.895},{"h":26,"p":29,"v":0.88},{"h":27,"p":29,"v":0.895},{"h":28,"p":29,"v":0.88},{"h":29,"p":29,"v":0.895}
]},
"mark":{"type":"rect","stroke":"white","strokeWidth":1.2},
"encoding":{
"x":{"field":"h","type":"ordinal","scale":{"paddingInner":0,"paddingOuter":0},"axis":{"title":"Hyperparameter Configurations","labels":false,"ticks":false,"domain":false,"titleFontSize":16,"titleFontWeight":"normal","titleColor":"#262626","titlePadding":4,"titleFont":"DejaVu Sans"}},
"y":{"field":"p","type":"ordinal","scale":{"paddingInner":0,"paddingOuter":0},"axis":{"title":"FE Pipeline Configurations","labels":false,"ticks":false,"domain":false,"titleFontSize":16,"titleFontWeight":"normal","titleColor":"#262626","titlePadding":6,"titleFont":"DejaVu Sans"}},
"color":{"field":"v","type":"quantitative","scale":{"type":"linear","domain":[0.5599,0.615,0.67,0.725,0.78,0.835,0.89,0.945,1.0],"range":["#ffffd9","#edf8b1","#c7e9b4","#7fcdbb","#41b6c4","#1d91c0","#225ea8","#253494","#081d58"],"interpolate":"rgb"},"legend":{"title":null,"orient":"right","offset":19,"gradientLength":286,"gradientThickness":16,"values":[0.56,0.64,0.72,0.8,0.88,0.96],"format":".2f","labelFontSize":16,"labelColor":"#262626","labelFont":"DejaVu Sans","labelOffset":6,"labelBaseline":"middle","gradientStrokeWidth":0}}
}
}
